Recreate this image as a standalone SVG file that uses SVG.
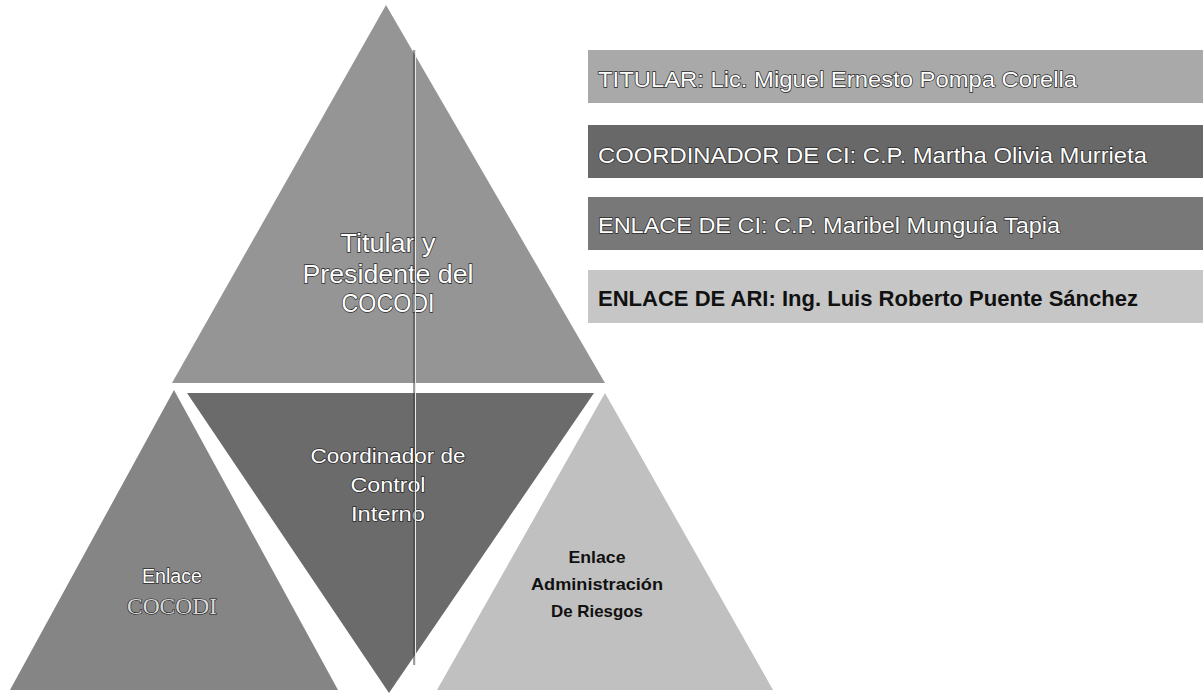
<svg xmlns="http://www.w3.org/2000/svg" width="1203" height="695" viewBox="0 0 1203 695">
<style>
.tri{stroke:none}
.wt{font-family:"Liberation Sans",Arial,sans-serif;fill:#ffffff;stroke:#2a2a2a;stroke-width:1.4;paint-order:stroke;text-anchor:middle}
.bt{font-family:"Liberation Sans",Arial,sans-serif;fill:#111111;font-weight:bold;text-anchor:middle}
.bx{font-family:"Liberation Sans",Arial,sans-serif;font-size:22px}
.bxw{fill:#ffffff;stroke:#2a2a2a;stroke-width:1.4;paint-order:stroke}
.bxb{fill:#111111;font-weight:bold}
</style>
<rect width="1203" height="695" fill="#ffffff"/>
<g id="node-titular">
<polygon class="tri" points="386,5 605,383 172,383" fill="#959595"/>
<text class="wt" font-size="26" x="388" y="252" textLength="95" lengthAdjust="spacingAndGlyphs">Titular y</text>
<text class="wt" font-size="26" x="388" y="283" textLength="171" lengthAdjust="spacingAndGlyphs">Presidente del</text>
<text class="wt" font-size="26" x="388" y="312" textLength="93" lengthAdjust="spacingAndGlyphs">COCODI</text>
</g>
<g id="node-coordinador">
<polygon class="tri" points="187,393 594,393 389,693" fill="#6b6b6b"/>
<text class="wt" font-size="20" x="388" y="463" textLength="155" lengthAdjust="spacingAndGlyphs">Coordinador de</text>
<text class="wt" font-size="20" x="388" y="492" textLength="75" lengthAdjust="spacingAndGlyphs">Control</text>
<text class="wt" font-size="20" x="388" y="521" textLength="74" lengthAdjust="spacingAndGlyphs">Interno</text>
</g>
<g id="node-enlace-cocodi">
<polygon class="tri" points="174,390 338,690 10,690" fill="#858585"/>
<text class="wt" font-size="20" x="172" y="583" textLength="60" lengthAdjust="spacingAndGlyphs">Enlace</text>
<text font-family="'Liberation Serif','Times New Roman',serif" font-size="23" x="172" y="614" text-anchor="middle" fill="#d8d8d8" stroke="#1a1a1a" stroke-width="1.2" paint-order="stroke" textLength="90" lengthAdjust="spacingAndGlyphs">COCODI</text>
</g>
<g id="node-enlace-ari">
<polygon class="tri" points="605,393 773,690 437,690" fill="#c0c0c0"/>
<text class="bt" font-size="17" x="597" y="563" textLength="57" lengthAdjust="spacingAndGlyphs">Enlace</text>
<text class="bt" font-size="17" x="597" y="590" textLength="132" lengthAdjust="spacingAndGlyphs">Administración</text>
<text class="bt" font-size="17" x="597" y="617" textLength="92" lengthAdjust="spacingAndGlyphs">De Riesgos</text>
</g>
<g id="connectors">
<line x1="414" y1="50" x2="414" y2="665" stroke="#3a3a3a" stroke-width="1"/>
<line x1="415.5" y1="50" x2="415.5" y2="665" stroke="#e8e8e8" stroke-width="1"/>
</g>
<g id="box-titular">
<rect x="588" y="50" width="615" height="53" fill="#a9a9a9"/>
<text class="bx bxw" x="598" y="87" textLength="479" lengthAdjust="spacingAndGlyphs">TITULAR: Lic. Miguel Ernesto Pompa Corella</text>
</g>
<g id="box-coordinador">
<rect x="588" y="125" width="615" height="53" fill="#686868"/>
<text class="bx bxw" x="598" y="163" textLength="549" lengthAdjust="spacingAndGlyphs">COORDINADOR DE CI: C.P. Martha Olivia Murrieta</text>
</g>
<g id="box-enlace-ci">
<rect x="588" y="197" width="615" height="53" fill="#787878"/>
<text class="bx bxw" x="598" y="233" textLength="462" lengthAdjust="spacingAndGlyphs">ENLACE DE CI: C.P. Maribel Munguía Tapia</text>
</g>
<g id="box-enlace-ari">
<rect x="588" y="270" width="615" height="53" fill="#c6c6c6"/>
<text class="bx bxb" x="598" y="306" textLength="540" lengthAdjust="spacingAndGlyphs">ENLACE DE ARI: Ing. Luis Roberto Puente Sánchez</text>
</g>
</svg>
